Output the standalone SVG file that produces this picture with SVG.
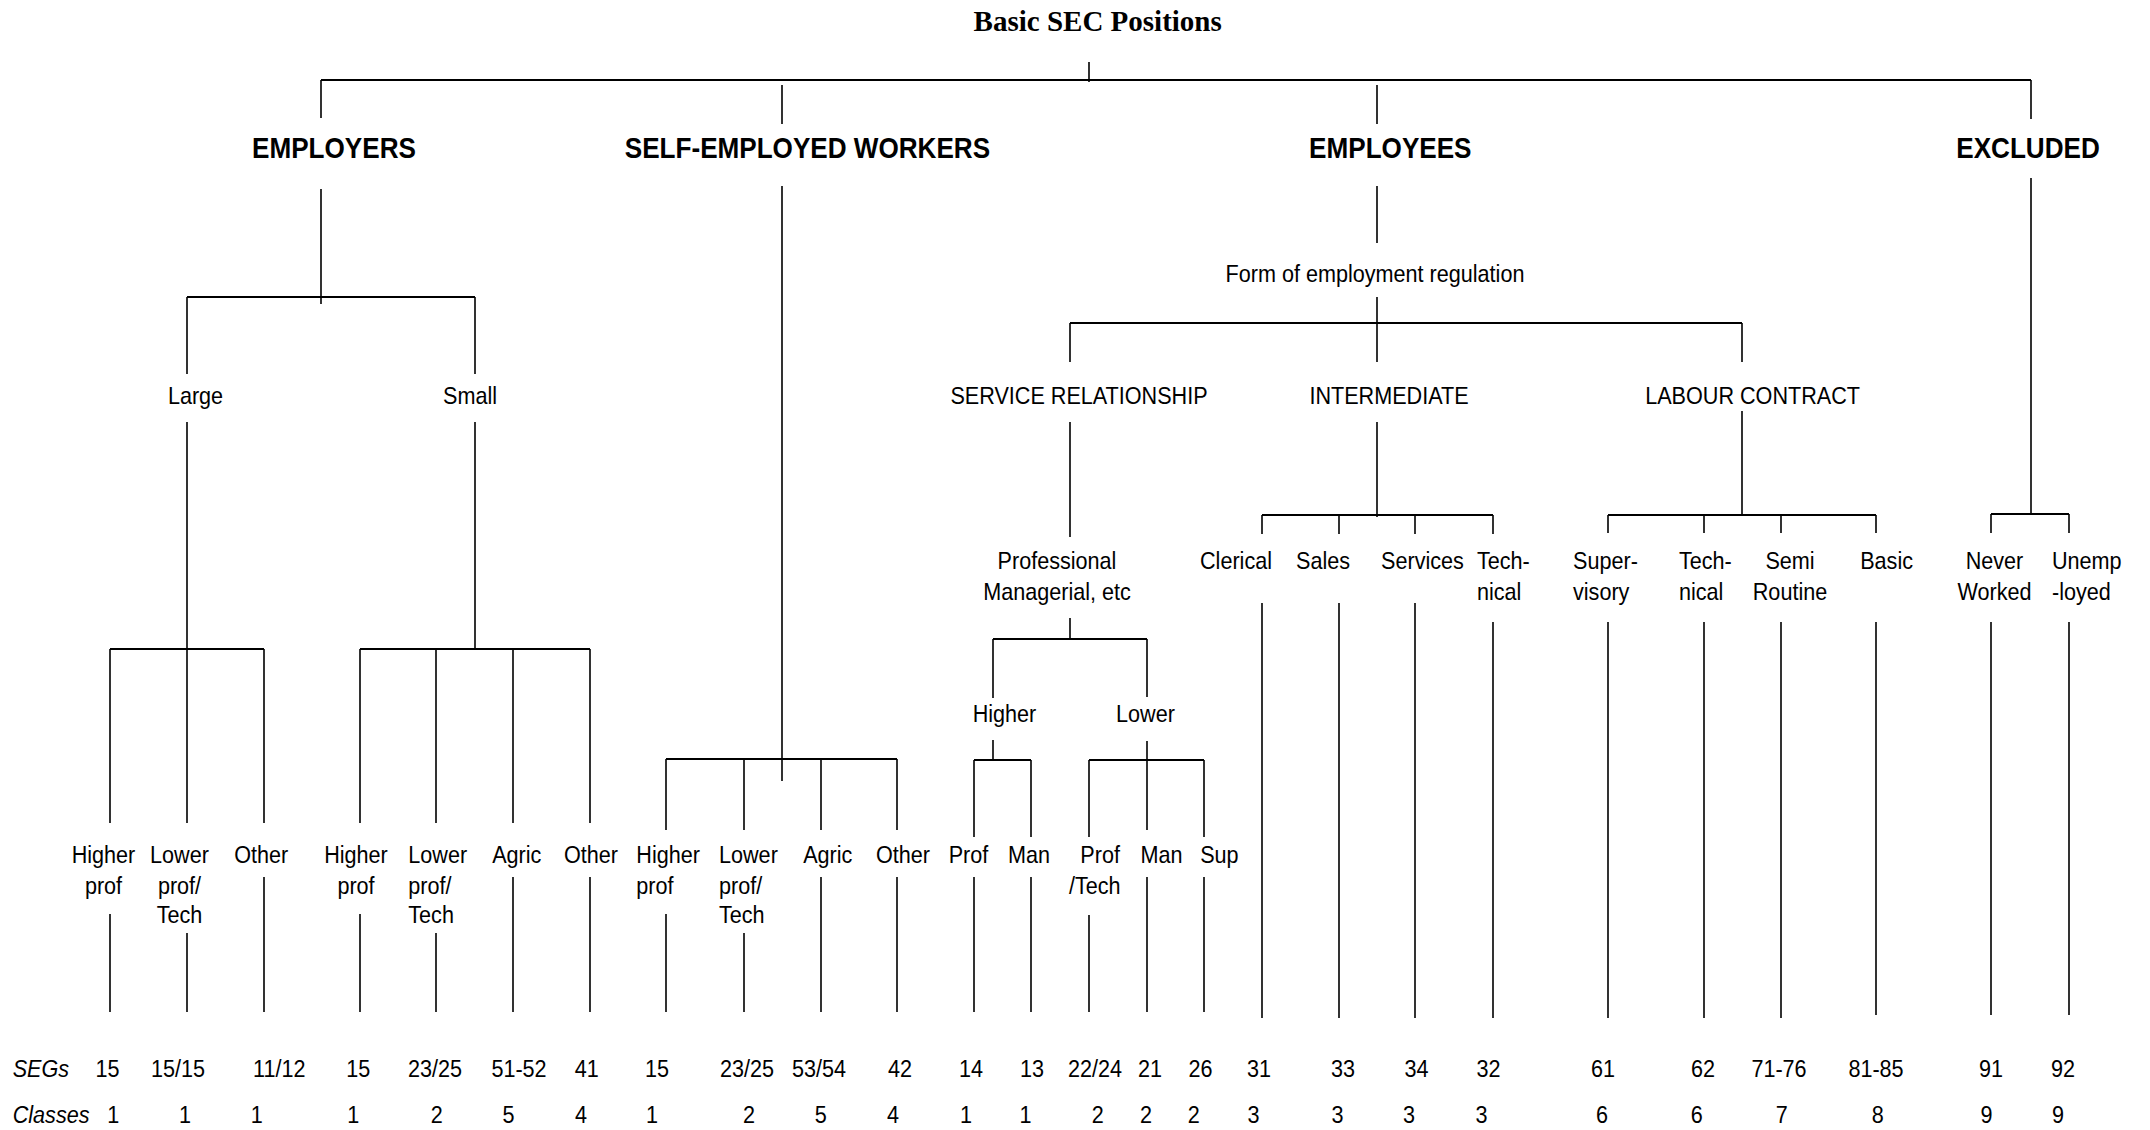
<svg xmlns="http://www.w3.org/2000/svg" width="2150" height="1130" viewBox="0 0 2150 1130">
<style>
  .bg { fill: #ffffff; }
  .bar { fill: none; stroke: #000; stroke-width: 2.2; }
  .ln { fill: none; stroke: #000; stroke-width: 1.6; }
  .title { font-family: "Liberation Serif", "Times New Roman", serif; font-weight: bold; font-size: 29px; fill: #000; text-anchor: middle; }
  .h { font-family: "Liberation Sans", Arial, sans-serif; font-weight: bold; font-size: 30px; fill: #000; text-anchor: middle; }
  .t { font-family: "Liberation Sans", Arial, sans-serif; font-size: 24px; fill: #000; text-anchor: middle; }
  .l { text-anchor: start; }
  .i { font-style: italic; text-anchor: start; }
</style>
<rect class="bg" x="0" y="0" width="2150" height="1130"/>

<g id="connectors">
  <path class="bar" d="M321 80 H2031 M187 297 H475 M1070 323 H1742 M110 649 H264 M360 649 H590 M666 759 H897 M993 639 H1147 M974 760 H1031 M1089 760 H1204 M1262 515 H1493 M1608 515 H1876 M1991 514 H2069"/>
  <path class="ln" d="M1089 62 V82 M321 80 V118 M782 85 V124 M1377 85 V124 M2031 80 V119
    M321 189 V304 M187 297 V374 M475 297 V374 M782 186 V781 M1377 186 V243 M1377 297 V362 M1070 323 V362 M1742 323 V362 M2031 178 V514
    M187 422 V649 M475 422 V649
    M110 649 V823 M187 649 V823 M264 649 V823 M360 649 V823 M436 649 V823 M513 649 V823 M590 649 V823
    M666 759 V830 M744 759 V830 M821 759 V830 M897 759 V830
    M1070 422 V537 M1070 618 V639 M993 639 V698 M1147 639 V697
    M993 740 V760 M974 760 V837 M1031 760 V837
    M1147 741 V760 M1089 760 V837 M1147 760 V830 M1204 760 V837
    M1377 422 V517 M1262 515 V534 M1339 515 V534 M1415 515 V534 M1493 515 V534
    M1742 411 V515 M1608 515 V533 M1704 515 V533 M1781 515 V533 M1876 515 V533
    M1991 514 V533 M2069 514 V533
    M110 914 V1012 M187 933 V1012 M264 877 V1012
    M360 914 V1012 M436 933 V1012 M513 877 V1012 M590 877 V1012
    M666 914 V1012 M744 933 V1012 M821 877 V1012 M897 877 V1012
    M974 877 V1012 M1031 877 V1012
    M1089 915 V1012 M1147 877 V1012 M1204 877 V1012
    M1262 603 V1018 M1339 603 V1018 M1415 603 V1018 M1493 622 V1018
    M1608 622 V1018 M1704 622 V1018 M1781 622 V1018 M1876 622 V1015 M1991 622 V1015 M2069 622 V1015"/>
</g>

<g id="title"><text class="title" x="1097.7" y="30.7">Basic SEC Positions</text></g>

<g id="employers"><text class="h" transform="translate(334,158.3) scale(0.87,1)">EMPLOYERS</text></g>
<g id="self-employed"><text class="h" transform="translate(807.4,158.3) scale(0.87,1)">SELF-EMPLOYED WORKERS</text></g>
<g id="employees"><text class="h" transform="translate(1390.3,158.3) scale(0.87,1)">EMPLOYEES</text></g>
<g id="excluded"><text class="h" transform="translate(2028,158.3) scale(0.87,1)">EXCLUDED</text></g>

<g id="form-regulation"><text class="t" transform="translate(1375,282) scale(0.9,1)">Form of employment regulation</text></g>

<g id="large"><text class="t" transform="translate(195.5,403.5) scale(0.9,1)">Large</text></g>
<g id="small"><text class="t" transform="translate(470,403.5) scale(0.9,1)">Small</text></g>
<g id="service-relationship"><text class="t" transform="translate(1079,403.5) scale(0.9,1)">SERVICE RELATIONSHIP</text></g>
<g id="intermediate"><text class="t" transform="translate(1389,403.5) scale(0.9,1)">INTERMEDIATE</text></g>
<g id="labour-contract"><text class="t" transform="translate(1752.6,403.5) scale(0.9,1)">LABOUR CONTRACT</text></g>

<g id="professional-managerial"><text class="t" transform="translate(1057,569.3) scale(0.9,1)"><tspan x="0">Professional</tspan><tspan x="0" dy="30.7">Managerial, etc</tspan></text></g>
<g id="sr-higher"><text class="t" transform="translate(1004.5,721.7) scale(0.9,1)">Higher</text></g>
<g id="sr-lower"><text class="t" transform="translate(1145.5,721.7) scale(0.9,1)">Lower</text></g>

<g id="int-clerical"><text class="t" transform="translate(1236,569.3) scale(0.9,1)">Clerical</text></g>
<g id="int-sales"><text class="t" transform="translate(1323,569.3) scale(0.9,1)">Sales</text></g>
<g id="int-services"><text class="t" transform="translate(1422.5,569.3) scale(0.9,1)">Services</text></g>
<g id="int-technical"><text class="t l" transform="translate(1477,569.3) scale(0.9,1)"><tspan x="0">Tech-</tspan><tspan x="0" dy="30.7">nical</tspan></text></g>
<g id="lc-supervisory"><text class="t l" transform="translate(1573,569.3) scale(0.9,1)"><tspan x="0">Super-</tspan><tspan x="0" dy="30.7">visory</tspan></text></g>
<g id="lc-technical"><text class="t l" transform="translate(1679,569.3) scale(0.9,1)"><tspan x="0">Tech-</tspan><tspan x="0" dy="30.7">nical</tspan></text></g>
<g id="lc-semi-routine"><text class="t" transform="translate(1790,569.3) scale(0.9,1)"><tspan x="0">Semi</tspan><tspan x="0" dy="30.7">Routine</tspan></text></g>
<g id="lc-basic"><text class="t" transform="translate(1886.6,569.3) scale(0.9,1)">Basic</text></g>
<g id="ex-never-worked"><text class="t" transform="translate(1994.5,569.3) scale(0.9,1)"><tspan x="0">Never</tspan><tspan x="0" dy="30.7">Worked</tspan></text></g>
<g id="ex-unemployed"><text class="t l" transform="translate(2052,569.3) scale(0.9,1)"><tspan x="0">Unemp</tspan><tspan x="0" dy="30.7">-loyed</tspan></text></g>

<g id="el-higher"><text class="t" transform="translate(103.5,863.3) scale(0.9,1)"><tspan x="0">Higher</tspan><tspan x="0" dy="30.5">prof</tspan></text></g>
<g id="el-lower"><text class="t" transform="translate(179.5,863.3) scale(0.9,1)"><tspan x="0">Lower</tspan><tspan x="0" dy="30.5">prof/</tspan><tspan x="0" dy="29.5">Tech</tspan></text></g>
<g id="el-other"><text class="t" transform="translate(261.3,863.3) scale(0.9,1)">Other</text></g>
<g id="es-higher"><text class="t" transform="translate(356,863.3) scale(0.9,1)"><tspan x="0">Higher</tspan><tspan x="0" dy="30.5">prof</tspan></text></g>
<g id="es-lower"><text class="t l" transform="translate(408.3,863.3) scale(0.9,1)"><tspan x="0">Lower</tspan><tspan x="0" dy="30.5">prof/</tspan><tspan x="0" dy="29.5">Tech</tspan></text></g>
<g id="es-agric"><text class="t" transform="translate(516.8,863.3) scale(0.9,1)">Agric</text></g>
<g id="es-other"><text class="t" transform="translate(591,863.3) scale(0.9,1)">Other</text></g>
<g id="se-higher"><text class="t l" transform="translate(636.3,863.3) scale(0.9,1)"><tspan x="0">Higher</tspan><tspan x="0" dy="30.5">prof</tspan></text></g>
<g id="se-lower"><text class="t l" transform="translate(719,863.3) scale(0.9,1)"><tspan x="0">Lower</tspan><tspan x="0" dy="30.5">prof/</tspan><tspan x="0" dy="29.5">Tech</tspan></text></g>
<g id="se-agric"><text class="t" transform="translate(827.8,863.3) scale(0.9,1)">Agric</text></g>
<g id="se-other"><text class="t" transform="translate(903,863.3) scale(0.9,1)">Other</text></g>
<g id="srh-prof"><text class="t" transform="translate(968.5,863.3) scale(0.9,1)">Prof</text></g>
<g id="srh-man"><text class="t" transform="translate(1029,863.3) scale(0.9,1)">Man</text></g>
<g id="srl-prof"><text class="t" transform="translate(1097,863.3) scale(0.9,1)"><tspan x="3.5">Prof</tspan><tspan x="-2.5" dy="30.5">/Tech</tspan></text></g>
<g id="srl-man"><text class="t" transform="translate(1161.5,863.3) scale(0.9,1)">Man</text></g>
<g id="srl-sup"><text class="t" transform="translate(1219.4,863.3) scale(0.9,1)">Sup</text></g>

<g id="segs-row">
  <text class="t i" transform="translate(12.7,1076.7) scale(0.9,1)">SEGs</text>
  <text class="t" transform="translate(107.5,1076.7) scale(0.9,1)">15</text>
  <text class="t" transform="translate(178,1076.7) scale(0.9,1)">15/15</text>
  <text class="t" transform="translate(279.2,1076.7) scale(0.9,1)">11/12</text>
  <text class="t" transform="translate(358.3,1076.7) scale(0.9,1)">15</text>
  <text class="t" transform="translate(435,1076.7) scale(0.9,1)">23/25</text>
  <text class="t" transform="translate(519,1076.7) scale(0.9,1)">51-52</text>
  <text class="t" transform="translate(586.7,1076.7) scale(0.9,1)">41</text>
  <text class="t" transform="translate(657,1076.7) scale(0.9,1)">15</text>
  <text class="t" transform="translate(747,1076.7) scale(0.9,1)">23/25</text>
  <text class="t" transform="translate(819,1076.7) scale(0.9,1)">53/54</text>
  <text class="t" transform="translate(900,1076.7) scale(0.9,1)">42</text>
  <text class="t" transform="translate(971,1076.7) scale(0.9,1)">14</text>
  <text class="t" transform="translate(1032,1076.7) scale(0.9,1)">13</text>
  <text class="t" transform="translate(1095,1076.7) scale(0.9,1)">22/24</text>
  <text class="t" transform="translate(1150,1076.7) scale(0.9,1)">21</text>
  <text class="t" transform="translate(1200.6,1076.7) scale(0.9,1)">26</text>
  <text class="t" transform="translate(1259,1076.7) scale(0.9,1)">31</text>
  <text class="t" transform="translate(1343,1076.7) scale(0.9,1)">33</text>
  <text class="t" transform="translate(1416.5,1076.7) scale(0.9,1)">34</text>
  <text class="t" transform="translate(1488.5,1076.7) scale(0.9,1)">32</text>
  <text class="t" transform="translate(1603,1076.7) scale(0.9,1)">61</text>
  <text class="t" transform="translate(1703,1076.7) scale(0.9,1)">62</text>
  <text class="t" transform="translate(1779,1076.7) scale(0.9,1)">71-76</text>
  <text class="t" transform="translate(1876,1076.7) scale(0.9,1)">81-85</text>
  <text class="t" transform="translate(1991,1076.7) scale(0.9,1)">91</text>
  <text class="t" transform="translate(2063,1076.7) scale(0.9,1)">92</text>
</g>

<g id="classes-row">
  <text class="t i" transform="translate(12.7,1123.3) scale(0.9,1)">Classes</text>
  <text class="t" transform="translate(113.3,1123.3) scale(0.9,1)">1</text>
  <text class="t" transform="translate(185,1123.3) scale(0.9,1)">1</text>
  <text class="t" transform="translate(256.7,1123.3) scale(0.9,1)">1</text>
  <text class="t" transform="translate(353.3,1123.3) scale(0.9,1)">1</text>
  <text class="t" transform="translate(436.7,1123.3) scale(0.9,1)">2</text>
  <text class="t" transform="translate(508.6,1123.3) scale(0.9,1)">5</text>
  <text class="t" transform="translate(581,1123.3) scale(0.9,1)">4</text>
  <text class="t" transform="translate(652,1123.3) scale(0.9,1)">1</text>
  <text class="t" transform="translate(749,1123.3) scale(0.9,1)">2</text>
  <text class="t" transform="translate(820.8,1123.3) scale(0.9,1)">5</text>
  <text class="t" transform="translate(893,1123.3) scale(0.9,1)">4</text>
  <text class="t" transform="translate(966,1123.3) scale(0.9,1)">1</text>
  <text class="t" transform="translate(1025.6,1123.3) scale(0.9,1)">1</text>
  <text class="t" transform="translate(1097.7,1123.3) scale(0.9,1)">2</text>
  <text class="t" transform="translate(1146,1123.3) scale(0.9,1)">2</text>
  <text class="t" transform="translate(1193.8,1123.3) scale(0.9,1)">2</text>
  <text class="t" transform="translate(1253.4,1123.3) scale(0.9,1)">3</text>
  <text class="t" transform="translate(1337.6,1123.3) scale(0.9,1)">3</text>
  <text class="t" transform="translate(1409,1123.3) scale(0.9,1)">3</text>
  <text class="t" transform="translate(1481.4,1123.3) scale(0.9,1)">3</text>
  <text class="t" transform="translate(1602,1123.3) scale(0.9,1)">6</text>
  <text class="t" transform="translate(1696.8,1123.3) scale(0.9,1)">6</text>
  <text class="t" transform="translate(1781.7,1123.3) scale(0.9,1)">7</text>
  <text class="t" transform="translate(1877.8,1123.3) scale(0.9,1)">8</text>
  <text class="t" transform="translate(1986.5,1123.3) scale(0.9,1)">9</text>
  <text class="t" transform="translate(2058,1123.3) scale(0.9,1)">9</text>
</g>
</svg>
